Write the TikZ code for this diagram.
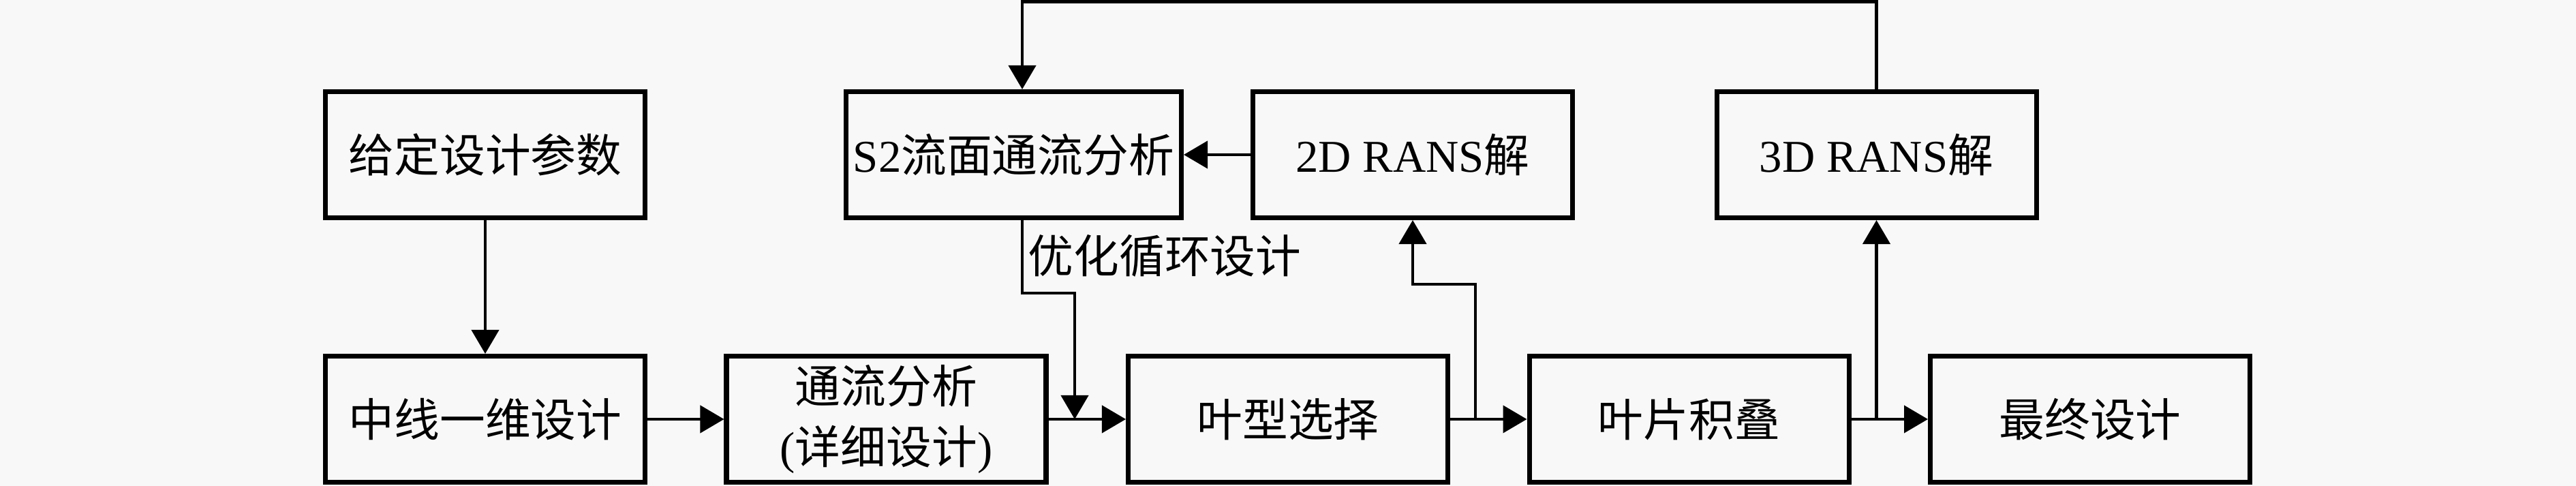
\documentclass[tikz,border=0pt]{standalone}
\usepackage{fontspec}
\setmainfont{Liberation Serif}
\newfontfamily\cjk{Noto Sans CJK SC}
\usepackage{tikz}
\usetikzlibrary{positioning}
\usetikzlibrary{shapes.geometric, arrows.meta}
\definecolor{paper}{HTML}{F8F8F8}

\begin{document}
\begin{tikzpicture}[
        block/.style={
            align=center,
            rectangle,
            draw,
            line width=2pt,
            fill=paper,
            minimum width=4.69cm,
            minimum height=1.85cm,
            inner sep=0pt,
            font=\cjk\fontsize{19}{25.3}\selectfont
        },
        flow/.style={-{Triangle[length=3.5mm, width=4mm]}, line width=1.2pt}
    ]
        \fill[paper] (0, 0) rectangle (37.8, 7.13);
        \useasboundingbox (0, 0) rectangle (37.8, 7.13);

        % top row
        \node[block] (par) at (7.12, 4.86) {给定设计参数};
        \node[block, minimum width=4.92cm] (s2) at (14.875, 4.86) {{\rmfamily S2}流面通流分析};
        \node[block] (rans2) at (20.73, 4.86) {{\rmfamily 2D RANS}解};
        \node[block] (rans3) at (27.535, 4.86) {{\rmfamily 3D RANS}解};

        % bottom row
        \node[block] (mid) at (7.12, 0.98) {中线一维设计};
        \node[block] (thr) at (13.005, 0.98) {通流分析\\{\rmfamily(}详细设计{\rmfamily)}};
        \node[block] (prof) at (18.90, 0.98) {叶型选择};
        \node[block] (stack) at (24.785, 0.98) {叶片积叠};
        \node[block] (final) at (30.67, 0.98) {最终设计};

        \node
        [
            anchor=west,
            inner sep=0pt,
            font=\cjk\fontsize{19}{25.3}\selectfont
        ] (optlbl) at (15.08, 3.38) {优化循环设计};

        \coordinate (opt) at (15.77, 2.83);
        \coordinate (b2) at (21.65, 0.98);
        \coordinate (k2) at (21.65, 2.96);
        \coordinate (top) at (20, 7.105);

        \draw[flow] (par) -- (mid);
        \draw[flow] (mid) -- (thr);
        \draw[flow] (thr) -- (prof);
        \draw[flow] (prof) -- (stack);
        \draw[flow] (stack) -- (final);
        \draw[flow] (rans2) -- (s2);
        \draw[flow] ([xshift=1.25mm]s2.south) |- (opt) -- (opt |- thr.east);
        \draw[flow] (b2) -- (k2) -| (rans2.south);
        \draw[flow] (rans3.south |- stack.east) -- (rans3.south);
        \draw[flow] (rans3.north) |- (top) -| ([xshift=1.25mm]s2.north);
\end{tikzpicture}
\end{document}
